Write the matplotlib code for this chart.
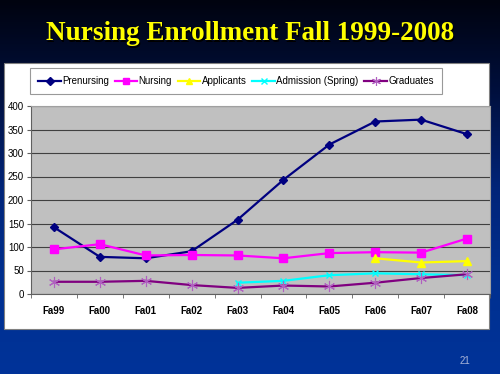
import numpy as np
import matplotlib
matplotlib.use('Agg')
import matplotlib.pyplot as plt
from matplotlib.patches import Rectangle
from matplotlib.colors import LinearSegmentedColormap

# Data
terms = ['Fa99', 'Fa00', 'Fa01', 'Fa02', 'Fa03', 'Fa04', 'Fa05', 'Fa06', 'Fa07', 'Fa08']
prenursing = [142, 79, 76, 91, 158, 243, 318, 367, 371, 340]
nursing = [95, 106, 82, 83, 82, 76, 87, 89, 88, 118]
applicants = [None, None, None, None, None, None, None, 76, 67, 70]
admission = [None, None, None, None, 24, 28, 40, 44, 42, 40]
graduates = [26, 26, 28, 19, 13, 18, 16, 24, 34, 42]

def arr(v):
    return np.array([np.nan if x is None else x for x in v], dtype=float)

plt.rcParams['font.family'] = ['Liberation Sans', 'DejaVu Sans']

fig = plt.figure(figsize=(5, 3.74), dpi=100)

# slide background gradient
bg = fig.add_axes([0, 0, 1, 1], zorder=-2)
cmap = LinearSegmentedColormap.from_list('slide', ['#00030f', '#00103f', '#002478', '#003090', '#003399'])
grad = np.linspace(0, 1, 256).reshape(-1, 1)
bg.imshow(grad, aspect='auto', cmap=cmap, extent=[0, 1, 0, 1], origin='upper')
bg.set_xlim(0, 1)
bg.set_ylim(0, 1)
bg.axis('off')

# white chart panel
bg.add_patch(Rectangle((4 / 500, 1 - 329 / 374), 485 / 500, 266 / 374,
                       facecolor='white', edgecolor='#808080', lw=0.8, zorder=2))

# title with shadow
title = 'Nursing Enrollment Fall 1999-2008'
fig.text(0.503, 1 - 35 / 374, title, ha='center', va='center', color='black',
         fontsize=19.5, fontweight='bold', family='Liberation Serif')
fig.text(0.5, 1 - 34 / 374, title, ha='center', va='center', color='#ffff00',
         fontsize=19.5, fontweight='bold', family='Liberation Serif')

fig.text(465 / 500, 1 - 361 / 374, '21', ha='center', va='center', color='#a8b4d8', fontsize=7)

ax = fig.add_axes([31 / 500, 80 / 374, 459 / 500, 188 / 374], zorder=3)
ax.set_facecolor('#c0c0c0')
x = np.arange(len(terms))

ax.plot(x, arr(prenursing), color='#000080', marker='D', markersize=4.5, lw=1.6, label='Prenursing')
ax.plot(x, arr(nursing), color='#ff00ff', marker='s', markersize=5.5, lw=1.6, label='Nursing')
ax.plot(x, arr(applicants), color='#ffff00', marker='^', markersize=6, lw=1.6, label='Applicants')
ax.plot(x, arr(admission), color='#00ffff', marker='x', markersize=5, mew=1, lw=1.6, label='Admission (Spring)')
ax.plot(x, arr(graduates), color='#800080', marker=(6, 2, 0), markersize=8, mew=0.8,
        mec='#b060c0', lw=1.6, label='Graduates')

ax.set_xlim(-0.5, 9.5)
ax.set_ylim(0, 400)
ax.set_yticks(range(0, 401, 50))
ax.yaxis.grid(True, color='#404040', lw=0.8)
ax.set_axisbelow(True)
ax.set_xticks(x)
ax.set_xticklabels(terms, fontweight='bold')
ax.set_xticks(np.arange(-0.5, 10, 1), minor=True)
ax.tick_params(axis='x', which='major', length=0, pad=9, labelsize=7)
ax.tick_params(axis='x', which='minor', length=3, color='#606060', direction='out')
ax.tick_params(axis='y', length=3, color='#606060', labelsize=7, pad=2)
for s in ['left', 'bottom']:
    ax.spines[s].set_color('#606060')
for s in ['top', 'right']:
    ax.spines[s].set_color('#a0a0a0')

leg = ax.legend(ncol=5, loc='center', bbox_to_anchor=(236 / 500, 1 - 81 / 374),
                bbox_transform=fig.transFigure, fontsize=7, frameon=True, fancybox=False,
                edgecolor='#808080', handlelength=2.3, handletextpad=0.15, columnspacing=0.6,
                borderpad=0.85, markerscale=0.8)
leg.get_frame().set_linewidth(0.8)

fig.savefig('out.png', dpi=100)
